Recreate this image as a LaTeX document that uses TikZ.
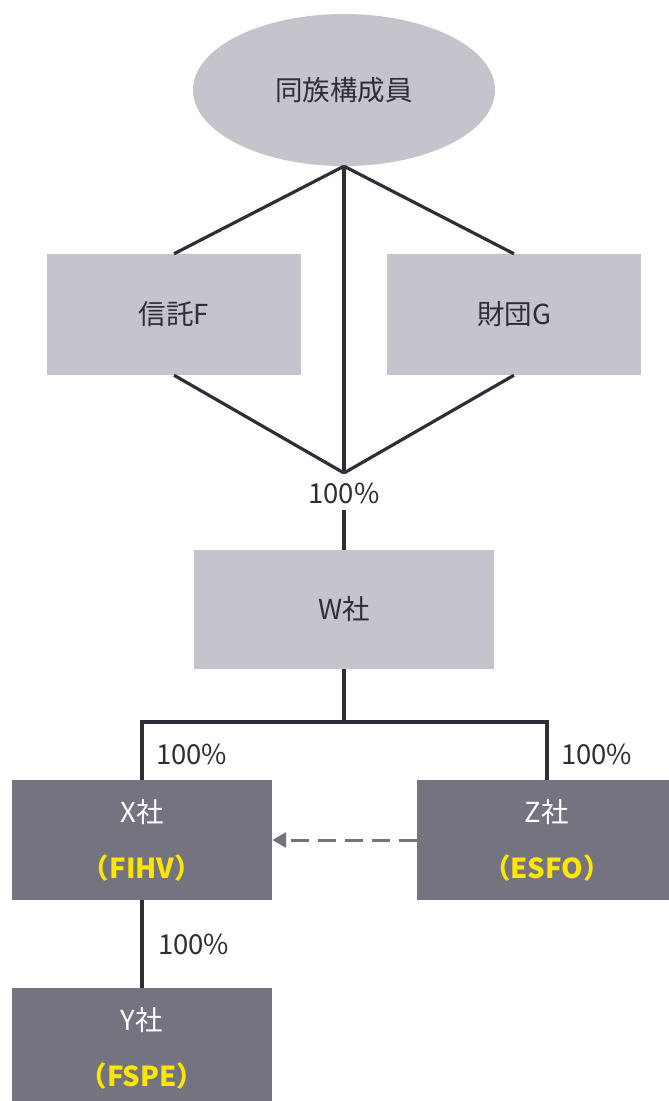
\documentclass[tikz,border=0pt]{standalone}
\usepackage{fontspec}
\setmainfont{Noto Sans CJK JP}
\usetikzlibrary{arrows.meta,shapes.geometric}
\definecolor{lightbox}{HTML}{C4C4CD}
\definecolor{darkbox}{HTML}{747480}
\definecolor{ink}{HTML}{2E2E38}
\definecolor{eyyellow}{HTML}{FFE600}
\begin{document}
\begin{tikzpicture}[x=1pt,y=-1pt,
  txt/.style={font=\fontsize{27.5}{30}\selectfont},
  lbox/.style={txt, fill=lightbox, draw=none, minimum width=254pt, minimum height=121pt, inner sep=0pt, text=ink},
  dbox/.style={fill=darkbox, draw=none, minimum width=260pt, minimum height=120pt, inner sep=0pt, text=white, align=center, font=\fontsize{27.5}{56}\selectfont},
  pct/.style={txt, text=ink, inner sep=0pt},
  conn/.style={draw=ink, line width=3.2pt},
  dasharrow/.style={draw=darkbox, line width=3pt, dash pattern=on 18pt off 9pt, -{Triangle[length=14pt,width=15pt]}}
]
\useasboundingbox (0,0) rectangle (669,1101);
\node[ellipse, fill=lightbox, minimum width=302pt, minimum height=152pt, inner sep=0pt, txt, text=ink] (fam) at (344,90) {同族構成員};
\node[lbox] (f) at (174,314.5) {信託F};
\node[lbox] (g) at (514,314.5) {財団G};
\coordinate (hub) at (344,473);
\node[pct, inner ysep=6pt] (p0) at (344,493) {100\%};
\node[lbox, minimum width=300pt, minimum height=119pt] (w) at (344,609.5) {W社};
\coordinate (j) at (344,722);
\node[dbox] (x) at (142,840) {X社\\{\color{eyyellow}\bfseries （FIHV）}};
\node[dbox] (z) at (547,840) {Z社\\{\color{eyyellow}\bfseries （ESFO）}};
\node[dbox] (y) at (142,1048) {Y社\\{\color{eyyellow}\bfseries （FSPE）}};
\node[pct, anchor=west] (px) at (156,754) {100\%};
\node[pct, anchor=west] (pz) at (561,754) {100\%};
\node[pct, anchor=west] (py) at (158,944) {100\%};
\draw[conn] (fam.south) -- (f.north);
\draw[conn] (fam.south) -- (g.north);
\draw[conn] (fam.south) -- (hub);
\draw[conn] (f.south) -- (hub);
\draw[conn] (g.south) -- (hub);
\draw[conn] (p0.south) -- (w.north);
\draw[conn] (w.south) -- (j);
\draw[conn] (x.north) |- (j) -| (z.north);
\draw[conn] (x.south) -- (y.north);
\draw[dasharrow] (z.west) -- (x.east);
\end{tikzpicture}
\end{document}
